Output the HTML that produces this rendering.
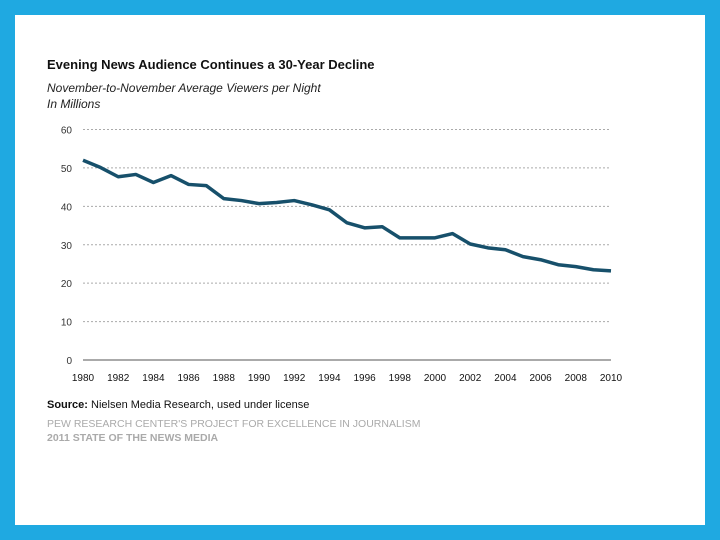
<!DOCTYPE html>
<html><head><meta charset="utf-8"><style>
html,body{margin:0;padding:0}
body{width:720px;height:540px;background:#1fa9e1;position:relative;font-family:"Liberation Sans",Arial,sans-serif;overflow:hidden}
#card{position:absolute;left:15px;top:15px;width:690px;height:510px;background:#fff}
.t{position:absolute;white-space:nowrap}
</style></head><body>
<div id="card"></div>
<div class="t" style="left:47px;top:57px;font-size:13px;font-weight:bold;color:#111">Evening News Audience Continues a 30-Year Decline</div>
<div class="t" style="left:47px;top:81px;font-size:12px;font-style:italic;color:#222">November-to-November Average Viewers per Night</div>
<div class="t" style="left:47px;top:97px;font-size:12px;font-style:italic;color:#222">In Millions</div>
<svg id="chart" width="720" height="540" style="position:absolute;left:0;top:0"></svg>
<div class="t" style="left:47px;top:399px;font-size:11px;color:#111"><b>Source:</b> Nielsen Media Research, used under license</div>
<div class="t" style="left:47px;top:418px;font-size:10.5px;color:#aaa">PEW RESEARCH CENTER'S PROJECT FOR EXCELLENCE IN JOURNALISM</div>
<div class="t" style="left:47px;top:432px;font-size:10.5px;font-weight:bold;color:#aaa">2011 STATE OF THE NEWS MEDIA</div>
<script>
const years=[1980,1981,1982,1983,1984,1985,1986,1987,1988,1989,1990,1991,1992,1993,1994,1995,1996,1997,1998,1999,2000,2001,2002,2003,2004,2005,2006,2007,2008,2009,2010];
const viewers=[52,50.1,47.7,48.3,46.2,48,45.7,45.4,42,41.5,40.7,41,41.5,40.4,39.1,35.7,34.4,34.7,31.8,31.8,31.8,32.9,30.2,29.2,28.7,26.9,26.1,24.8,24.3,23.5,23.2];
const yTicks=[0,10,20,30,40,50,60];
const xTicks=[1980,1982,1984,1986,1988,1990,1992,1994,1996,1998,2000,2002,2004,2006,2008,2010];
const NS="http://www.w3.org/2000/svg",svg=document.getElementById('chart');
const x0=83,x1=611,y0=360,y1=129.5;
const xs=v=>x0+(v-1980)/(2010-1980)*(x1-x0);
const ys=v=>y0-v/60*(y0-y1);
function mk(t,a){const e=document.createElementNS(NS,t);for(const k in a)e.setAttribute(k,a[k]);svg.appendChild(e);return e;}
yTicks.forEach(v=>{
 if(v>0){const g=mk('line',{x1:x0,x2:x1,y1:ys(v),y2:ys(v),stroke:'#aaa','stroke-dasharray':'2,2','stroke-width':1});
 
 }
 const t=mk('text',{x:72,y:ys(v)+4,'text-anchor':'end','font-size':10,fill:'#333','font-family':'Liberation Sans, sans-serif'});
 t.textContent=v;
 
 
});
const ax=mk('line',{x1:x0,x2:x1,y1:y0,y2:y0,stroke:'#555','stroke-width':1});


xTicks.forEach(v=>{
 const t=mk('text',{x:xs(v),y:381,'text-anchor':'middle','font-size':10,fill:'#111','font-family':'Liberation Sans, sans-serif'});
 t.textContent=v;
 
 
});
const p=mk('polyline',{points:years.map((y,i)=>xs(y)+','+ys(viewers[i])).join(' '),fill:'none',stroke:'#17506b','stroke-width':3.5,'stroke-linejoin':'round'});


</script>
</body></html>
